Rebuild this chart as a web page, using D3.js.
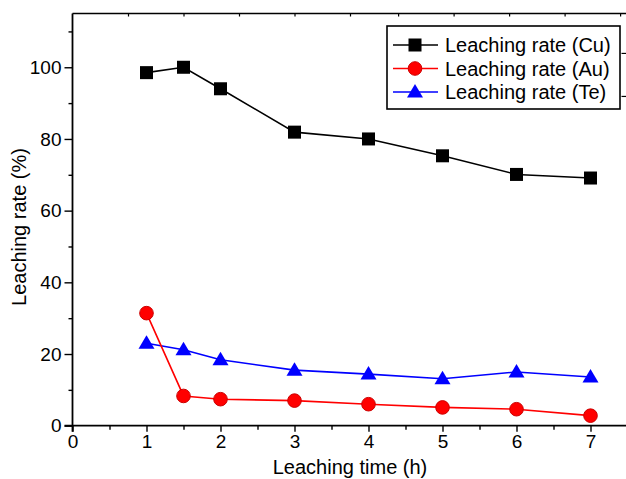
<!DOCTYPE html>
<html>
<head>
<meta charset="utf-8">
<script src="https://cdn.jsdelivr.net/npm/d3@7"></script>
<style>
  body { margin: 0; background: #fff; }
  text { font-family: "Liberation Sans", Arial, sans-serif; }
</style>
</head>
<body>
<div id="chart"></div>
<script>
// leaching data
const hours = [1, 1.5, 2, 3, 4, 5, 6, 7];
const cuRate = [98.5, 100, 94.0, 81.9, 80.0, 75.3, 70.1, 69.1];
const auRate = [31.4, 8.3, 7.4, 7.0, 6.0, 5.1, 4.6, 2.8];
const teRate = [23.0, 21.2, 18.4, 15.5, 14.4, 13.1, 15.0, 13.6];

const xMajor = [0, 1, 2, 3, 4, 5, 6, 7];
const xMinor = [0.5, 1.5, 2.5, 3.5, 4.5, 5.5, 6.5];
const yMajor = [0, 20, 40, 60, 80, 100];
const yMinor = [10, 30, 50, 70, 90, 110];
// mirror axes (top / right) have their own odd tick spacing in the source
const topTicks = [0.75, 1.5, 2.25, 3.0, 3.75, 4.4, 5.15, 5.9, 6.65, 7.4];
const rightTicks = [104, 92];

const series = [
  {name: "Leaching rate (Cu)", values: cuRate, color: "#000000", marker: "square"},
  {name: "Leaching rate (Au)", values: auRate, color: "#ff0000", marker: "circle"},
  {name: "Leaching rate (Te)", values: teRate, color: "#0000ff", marker: "triangle"}
];

const W = 626, H = 479;
const svg = d3.select("#chart").append("svg")
    .attr("width", W)
    .attr("height", H);

const x = d3.scaleLinear().domain([0, 7.5]).range([72.5, 627.5]);
const y = d3.scaleLinear().domain([0, 115]).range([425.7, 13.5]);

// frame
svg.append("line").attr("x1", x(0)).attr("x2", x(7.5)).attr("y1", y(115)).attr("y2", y(115))
    .attr("stroke", "#000").attr("stroke-width", 1.6);
svg.append("line").attr("x1", x(7.5)).attr("x2", x(7.5)).attr("y1", y(115)).attr("y2", y(0))
    .attr("stroke", "#000").attr("stroke-width", 1.6);

// bottom axis
const xAxis = svg.append("g").attr("transform", `translate(0,${y(0)})`)
    .call(d3.axisBottom(x).tickValues(xMajor).tickFormat(d3.format("d")).tickSize(6).tickPadding(3));
svg.append("g").attr("transform", `translate(0,${y(0)})`)
    .call(d3.axisBottom(x).tickValues(xMinor).tickFormat("").tickSize(4))
    .select(".domain").remove();

// left axis
const yAxis = svg.append("g").attr("transform", `translate(${x(0)},0)`)
    .call(d3.axisLeft(y).tickValues(yMajor).tickFormat(d3.format("d")).tickSize(8).tickPadding(3));
svg.append("g").attr("transform", `translate(${x(0)},0)`)
    .call(d3.axisLeft(y).tickValues(yMinor).tickFormat("").tickSize(4))
    .select(".domain").remove();

svg.selectAll(".domain").attr("stroke-width", 1.8);
xAxis.select(".domain").attr("d", `M${x(0) - 8},0H${W}`);
yAxis.select(".domain").attr("d", `M0,${y(115)}V${y(0) + 6}`);
svg.selectAll(".tick line").attr("stroke-width", 1.4);
svg.selectAll(".tick text").attr("font-size", 19).attr("fill", "#000")
    .attr("font-family", "Liberation Sans, Arial, sans-serif");

// top / right mirror ticks
svg.append("g").attr("transform", `translate(0,${y(115)})`)
    .call(d3.axisBottom(x).tickValues(topTicks).tickFormat("").tickSize(3))
    .call(g => g.select(".domain").remove())
    .selectAll("line").attr("stroke-width", 1.2);
svg.append("g").attr("transform", `translate(${x(7.5)},0)`)
    .call(d3.axisRight(y).tickValues(rightTicks).tickFormat("").tickSize(-6))
    .call(g => g.select(".domain").remove())
    .selectAll("line").attr("stroke-width", 1.2);

// axis titles
svg.append("text")
    .attr("x", 350).attr("y", 474)
    .attr("text-anchor", "middle")
    .attr("font-size", 20)
    .text("Leaching time (h)");
svg.append("text")
    .attr("transform", "translate(26,227) rotate(-90)")
    .attr("text-anchor", "middle")
    .attr("font-size", 20)
    .text("Leaching rate (%)");

// marker drawing
function drawMarker(sel, kind, color) {
    if (kind === "square") {
        sel.append("rect").attr("x", -6.5).attr("y", -6.5).attr("width", 13).attr("height", 13)
            .attr("fill", color);
    } else if (kind === "circle") {
        sel.append("circle").attr("r", 6.8).attr("fill", color).attr("stroke", "#cc0000").attr("stroke-width", 1);
    } else {
        sel.append("path").attr("d", "M0,-8L8,5.5L-8,5.5Z").attr("fill", color);
    }
}

const line = d3.line()
    .x((d, i) => x(hours[i]))
    .y(d => y(d));

// draw Te first, then Au, then Cu
[series[2], series[1], series[0]].forEach(s => {
    svg.append("path")
        .datum(s.values)
        .attr("fill", "none")
        .attr("stroke", s.color)
        .attr("stroke-width", 1.6)
        .attr("d", line);
    s.values.forEach((v, i) => {
        const g = svg.append("g").attr("transform", `translate(${x(hours[i])},${y(v)})`);
        drawMarker(g, s.marker, s.color);
    });
});

// legend
const legend = svg.append("g");
legend.append("rect")
    .attr("x", 387).attr("y", 26).attr("width", 233).attr("height", 83)
    .attr("fill", "#fff").attr("stroke", "#000").attr("stroke-width", 1.6);
series.forEach((s, i) => {
    const cy = 45 + i * 23.5;
    legend.append("line").attr("x1", 393).attr("x2", 438).attr("y1", cy).attr("y2", cy)
        .attr("stroke", s.color).attr("stroke-width", 1.6);
    const g = legend.append("g").attr("transform", `translate(415,${cy})`);
    drawMarker(g, s.marker, s.color);
    legend.append("text")
        .attr("x", 445).attr("y", cy + 7)
        .attr("font-size", 20)
        .text(s.name);
});
</script>
</body>
</html>
